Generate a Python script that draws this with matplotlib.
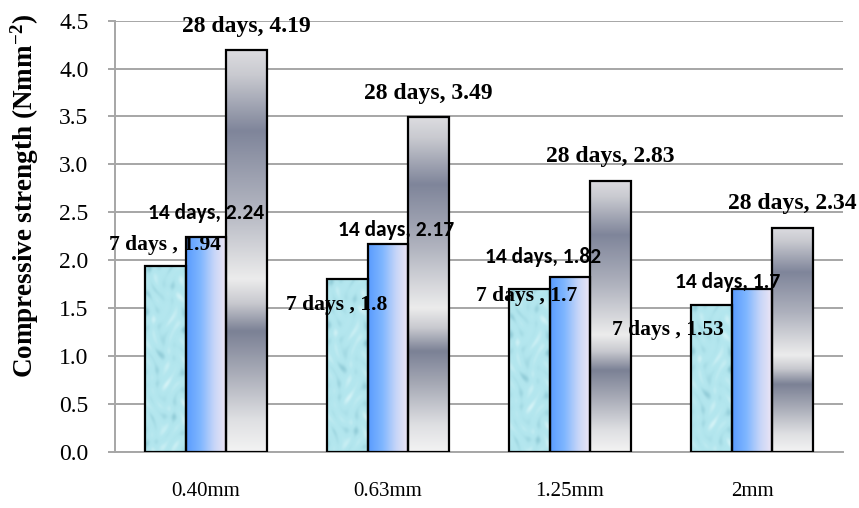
import numpy as np
import matplotlib
matplotlib.use("Agg")
import matplotlib.pyplot as plt
from matplotlib.colors import LinearSegmentedColormap, to_rgb
from matplotlib.ticker import MultipleLocator, FormatStrFormatter

# ---- data -------------------------------------------------------------
sizes = ["0.40mm", "0.63mm", "1.25mm", "2mm"]
days7 = [1.94, 1.8, 1.7, 1.53]
days14 = [2.24, 2.17, 1.82, 1.7]
days28 = [4.19, 3.49, 2.83, 2.34]

# label anchor points (category units, strength units)
lab7_pos = [(-0.225, 2.163), (0.72, 1.531), (1.764, 1.63), (2.538, 1.27)]
lab14_pos = [(0.003, 2.49), (1.047, 2.31), (1.854, 2.035), (2.865, 1.775)]

SERIF = "Liberation Serif"
SANS = ["Carlito", "Lato"]

plt.rcParams["mathtext.fontset"] = "custom"
plt.rcParams["mathtext.bf"] = "Liberation Serif:bold"
plt.rcParams["mathtext.rm"] = "Liberation Serif:bold"
plt.rcParams["mathtext.default"] = "bf"

fig = plt.figure(figsize=(8.59, 5.08), dpi=100)
ax = fig.add_axes([115 / 859, 1 - 451.7 / 508, 728 / 859, 431 / 508])

x = np.arange(len(sizes))
w = 0.2235

edge = dict(facecolor="none", edgecolor="black", linewidth=1.6, zorder=4)
b7 = ax.bar(x - w, days7, w, **edge)
b14 = ax.bar(x, days14, w, **edge)
b28 = ax.bar(x + w, days28, w, **edge)


def bubble_texture(h):
    rows = max(int(h * 96), 2)
    cols = 41
    yy, xx = np.mgrid[0:rows, 0:cols].astype(float)
    t = (np.sin(xx * 0.33 + np.sin(yy * 0.11) * 2.0) * np.sin(yy * 0.21 + np.cos(xx * 0.19) * 1.7)
         + 0.6 * np.sin((xx + yy) * 0.17) * np.cos((xx - yy) * 0.13))
    t = (t - t.min()) / (t.max() - t.min())
    base = np.array(to_rgb("#b3e6ee"))
    dark = np.array(to_rgb("#8fcad6"))
    light = np.array(to_rgb("#d2f2f6"))
    img = np.where(t[..., None] > 0.5,
                   base + (dark - base) * ((t[..., None] - 0.5) * 2) ** 2,
                   base + (light - base) * ((0.5 - t[..., None]) * 2) ** 2)
    return np.clip(img, 0, 1)


blue_cmap = LinearSegmentedColormap.from_list(
    "blue14", [(0, "#5a9cfe"), (0.35, "#7fb6ff"), (0.7, "#c8d6f8"), (1, "#eee6f4")])
metal_cmap = LinearSegmentedColormap.from_list(
    "metal28", [(0.0, "#dcdce0"), (0.06, "#c9cad0"), (0.2, "#7f859a"), (0.38, "#aeb1bd"),
                (0.57, "#ececec"), (0.63, "#c8c9cf"), (0.7, "#7b8195"), (0.8, "#a7aab6"),
                (0.92, "#dedfe2"), (1.0, "#f3f3f3")])

for p in b7.patches:
    x0, bw, h = p.get_x(), p.get_width(), p.get_height()
    ax.imshow(bubble_texture(h), extent=[x0, x0 + bw, 0, h], aspect="auto",
              interpolation="bilinear", zorder=3)
for p in b14.patches:
    x0, bw, h = p.get_x(), p.get_width(), p.get_height()
    grad = np.linspace(0, 1, 64)[None, :]
    ax.imshow(grad, cmap=blue_cmap, extent=[x0, x0 + bw, 0, h], aspect="auto",
              interpolation="bilinear", zorder=3)
for p in b28.patches:
    x0, bw, h = p.get_x(), p.get_width(), p.get_height()
    grad = np.linspace(0, 1, 256)[:, None]
    ax.imshow(grad, cmap=metal_cmap, extent=[x0, x0 + bw, 0, h], aspect="auto",
              interpolation="bilinear", zorder=3)

ax.set_xlim(-0.5, 3.5)
ax.set_ylim(0, 4.5)

# grid and axes
ax.yaxis.set_major_locator(MultipleLocator(0.5))
ax.yaxis.set_major_formatter(FormatStrFormatter("%.1f"))
ax.grid(axis="y", color="#a6a6a6", linewidth=1.4, zorder=0)
ax.set_axisbelow(True)
for s in ["top", "right"]:
    ax.spines[s].set_visible(False)
for s in ["left", "bottom"]:
    ax.spines[s].set_color("#a6a6a6")
    ax.spines[s].set_linewidth(1.4)
ax.tick_params(axis="y", length=5, width=1.4, color="#a6a6a6", pad=14)
ax.tick_params(axis="x", length=0, pad=22)
ax.set_xticks(x)
ax.set_xticklabels(sizes)
for t in ax.get_xticklabels():
    t.set_fontfamily(SERIF)
    t.set_fontsize(15)
for t in ax.get_yticklabels():
    t.set_fontfamily(SERIF)
    t.set_fontsize(17)

fig.text(25 / 859, 1 - 196 / 508, "Compressive strength (Nmm$^{-2}$)", rotation=90,
         ha="center", va="center", fontfamily=SERIF, fontweight="bold", fontsize=19.5)

# value labels
for i, v in enumerate(days28):
    ax.text(x[i] + w, v + 0.25, f"28 days, {v}", ha="center", va="center",
            fontfamily=SERIF, fontweight="bold", fontsize=17, zorder=6)
for (lx, ly), v in zip(lab14_pos, days14):
    ax.text(lx, ly, f"14 days, {v}", ha="center", va="center",
            fontfamily=SANS, fontweight="bold", fontsize=15.5, zorder=6)
for (lx, ly), v in zip(lab7_pos, days7):
    ax.text(lx, ly, f"7 days , {v}", ha="center", va="center",
            fontfamily=SERIF, fontweight="bold", fontsize=15.5, zorder=6)

fig.savefig("out.png", dpi=100)
